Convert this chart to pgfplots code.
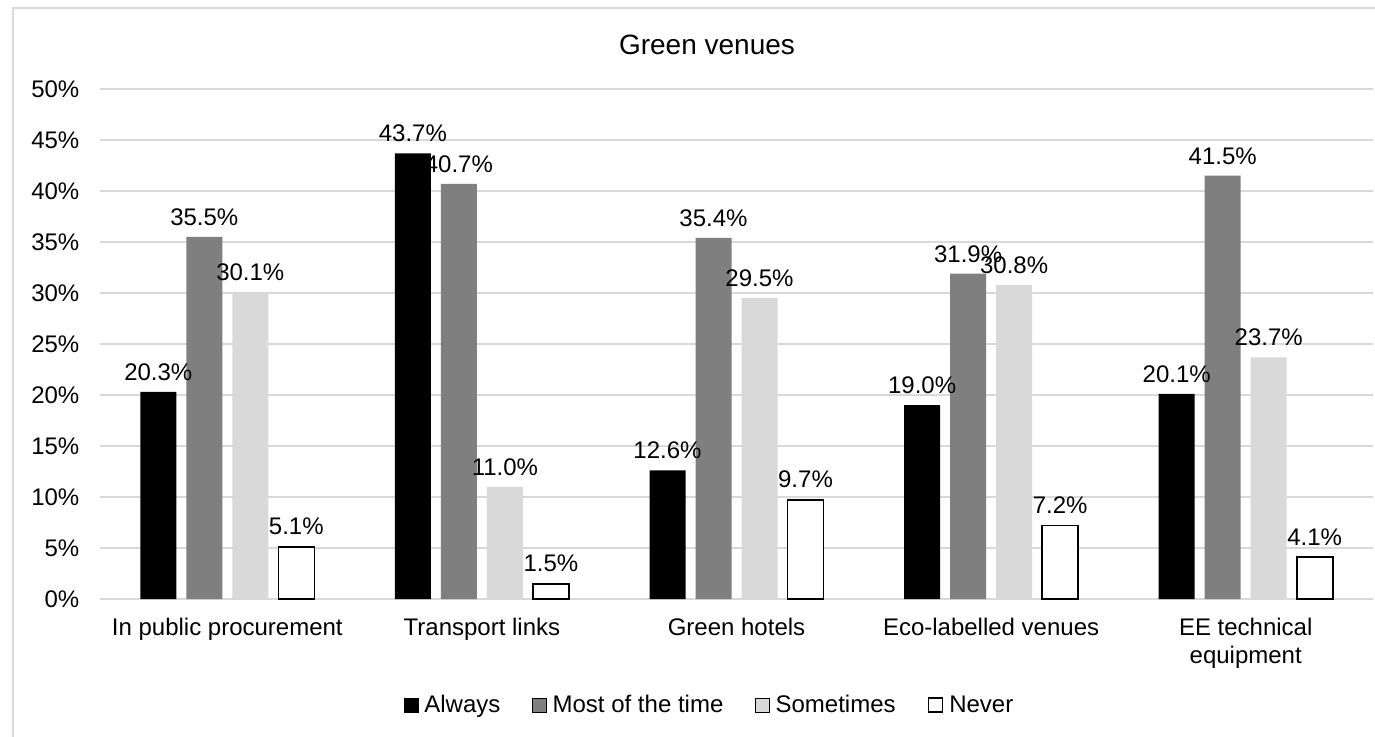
\documentclass[border=0pt]{standalone}
\usepackage{pgfplots}
\pgfplotsset{compat=1.18}
\usepackage{fontspec}
\setmainfont{Liberation Sans}

\definecolor{midgray}{HTML}{7F7F7F}
\definecolor{lightgray}{HTML}{D9D9D9}
\definecolor{framegray}{HTML}{D9D9D9}

\begin{document}
\begin{tikzpicture}
\useasboundingbox (-75pt,-102.75pt) rectangle (956.25pt,449.25pt);
\fill[white] (-75pt,-102.75pt) rectangle (956.25pt,449.25pt);
\draw[framegray, line width=1.2pt] (-65.25pt,-110pt) -- (-65.25pt,443.25pt) -- (970pt,443.25pt);

\begin{axis}[
  scale only axis,
  width=954.75pt,
  height=382.5pt,
  at={(0,0)}, anchor=south west,
  ybar=7.5pt,
  bar width=27pt,
  xmin=-0.5, xmax=4.5,
  ymin=0, ymax=50,
  xtick=data,
  xticklabels={In public procurement, Transport links, Green hotels, Eco-labelled venues, {EE technical\\equipment}},
  ytick={0,5,...,50},
  yticklabel={\pgfmathprintnumber{\tick}\%},
  /pgf/number format/assume math mode=true,
  ymajorgrids,
  grid style={framegray, line width=1.1pt},
  axis line style={draw=none},
  major tick length=0pt,
  tick label style={font=\fontsize{18}{21}\selectfont},
  xticklabel style={align=center, yshift=-10.5pt},
  yticklabel style={xshift=-12pt},
  nodes near coords={\pgfmathprintnumber[fixed,fixed zerofill,precision=1]{\pgfplotspointmeta}\%},
  nodes near coords style={font=\fontsize{18}{21}\selectfont, yshift=5pt},
  legend columns=4,
  legend style={draw=none, at={(0.4792,-0.2078)}, anchor=center,
    font=\fontsize{18}{21}\selectfont,
    /tikz/every even column/.append style={column sep=22pt}},
  legend image code/.code={\draw[#1] (0pt,-5.25pt) rectangle (10.5pt,5.25pt); \path (13pt,0pt);},
]
\addplot[fill=black, draw=none] coordinates {(0,20.3) (1,43.7) (2,12.6) (3,19.0) (4,20.1)};
\addplot[fill=midgray, draw=none] coordinates {(0,35.5) (1,40.7) (2,35.4) (3,31.9) (4,41.5)};
\addplot[fill=lightgray, draw=none] coordinates {(0,30.1) (1,11.0) (2,29.5) (3,30.8) (4,23.7)};
\addplot[fill=white, draw=black, line width=1.2pt] coordinates {(0,5.1) (1,1.5) (2,9.7) (3,7.2) (4,4.1)};
\legend{Always, Most of the time, Sometimes, Never}
\end{axis}

\node[font=\fontsize{21}{25}\selectfont] at (455.25pt,415.5pt) {Green venues};
\end{tikzpicture}
\end{document}
